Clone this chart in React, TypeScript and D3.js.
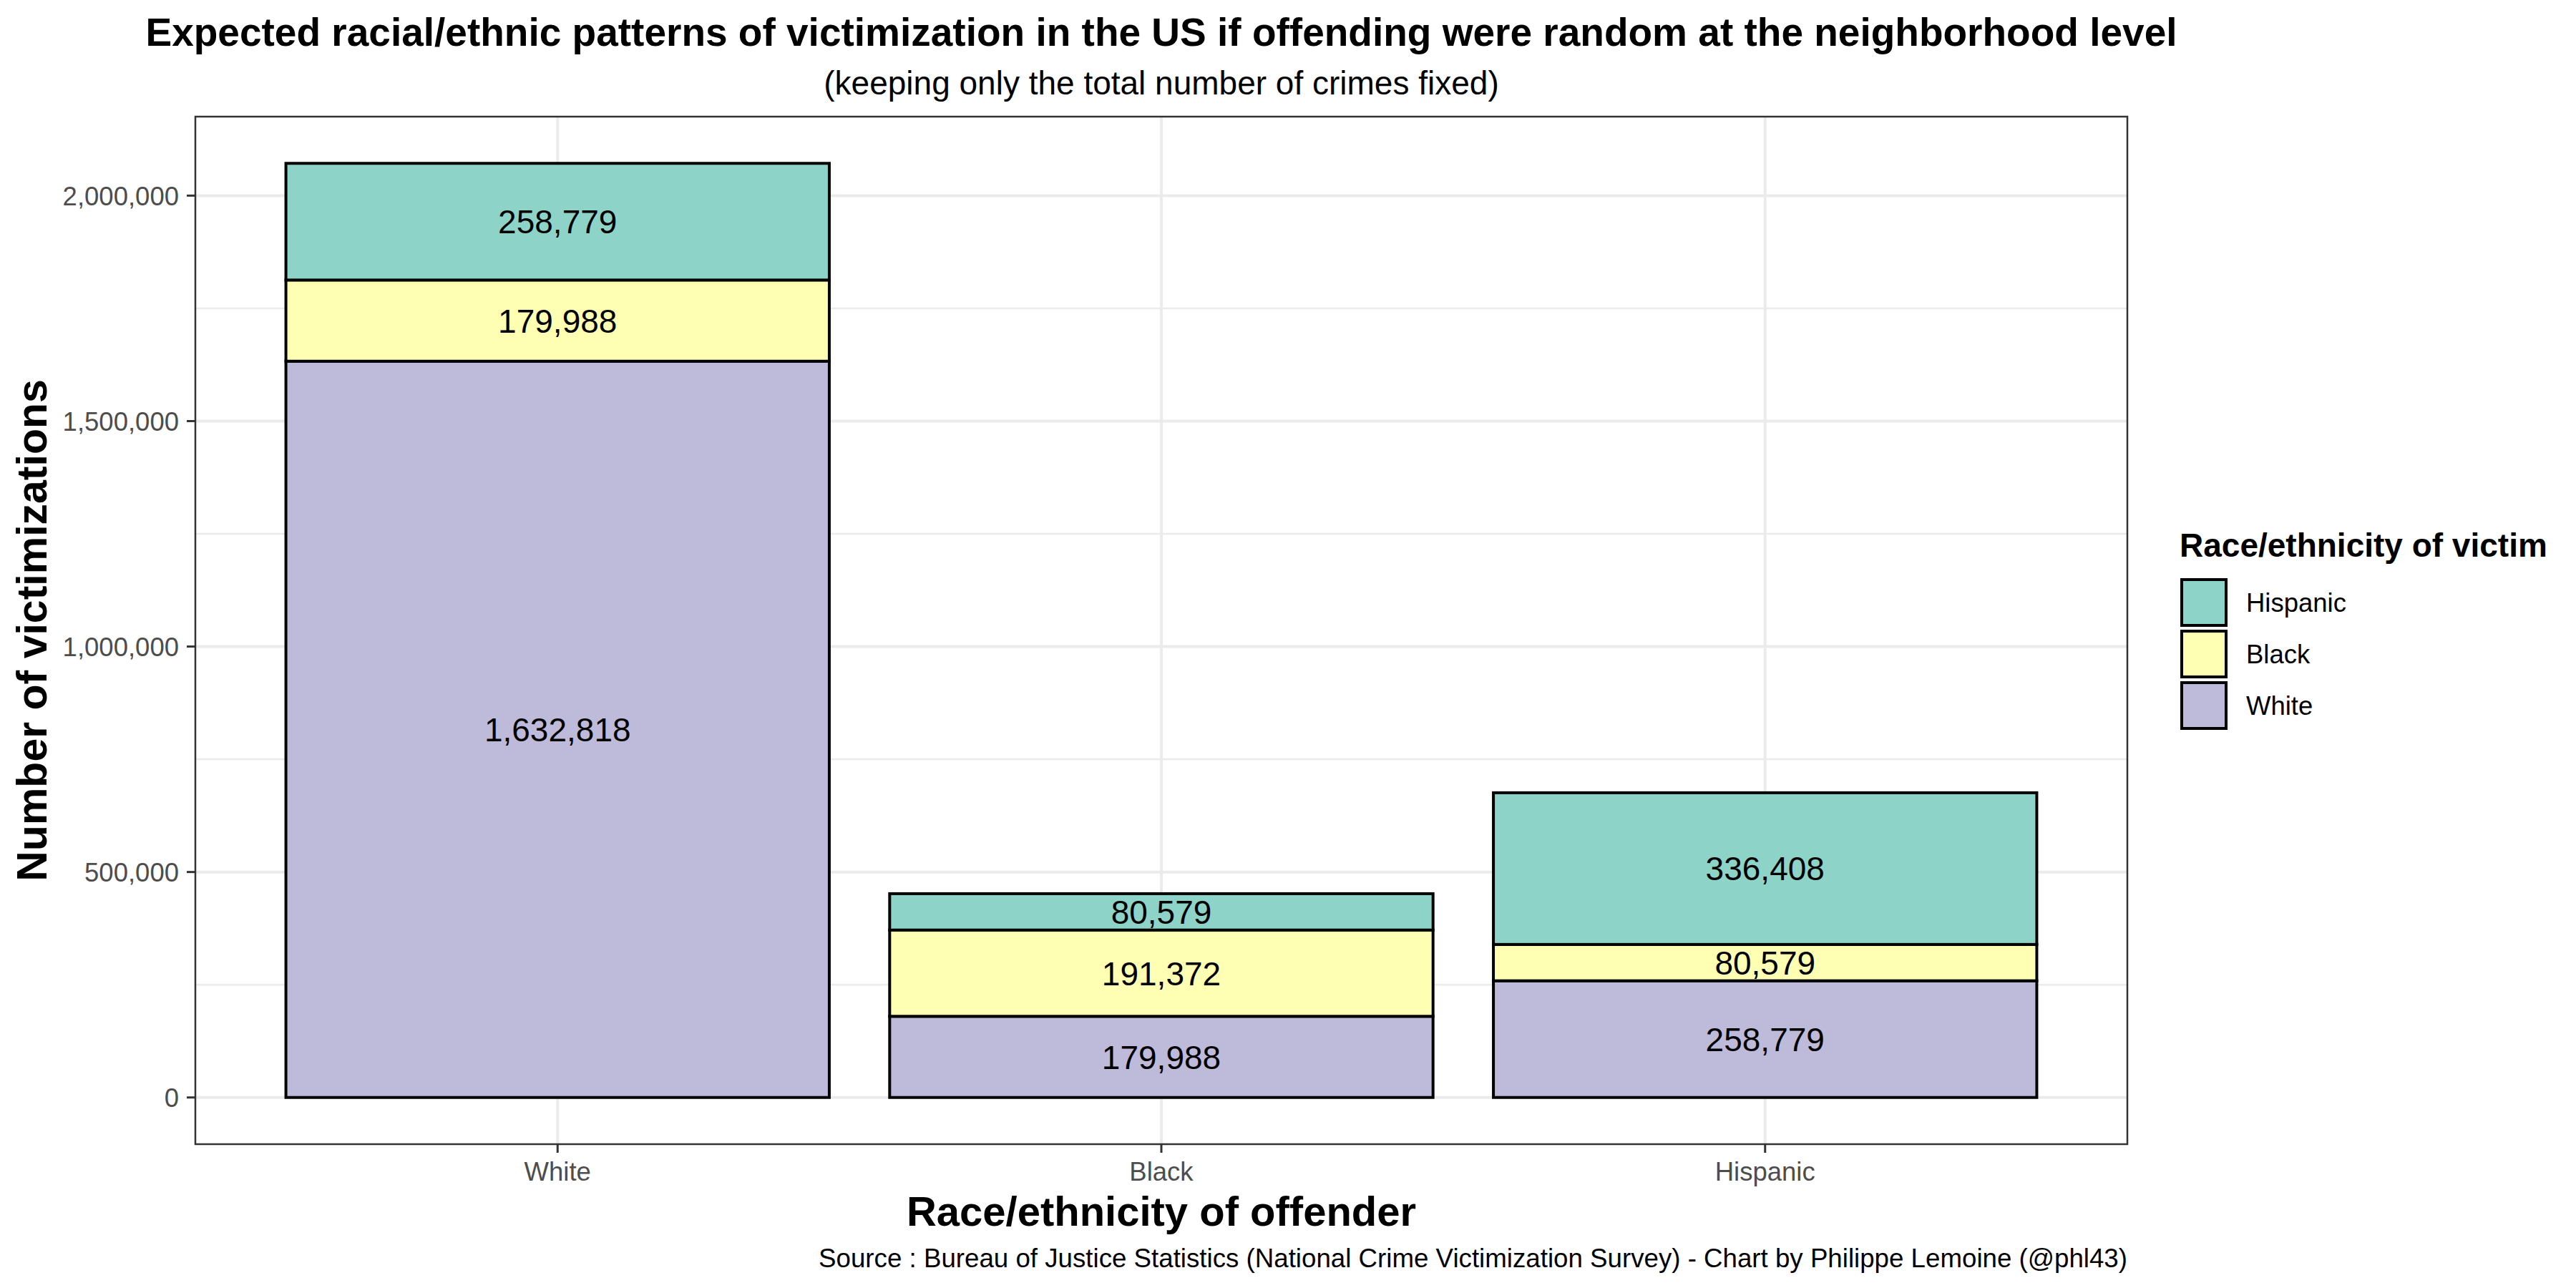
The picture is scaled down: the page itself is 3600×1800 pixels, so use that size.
import React from "react";
import * as d3 from "d3";

const offenders = ["White", "Black", "Hispanic"];
const victimGroups = ["White", "Black", "Hispanic"]; // stack order bottom -> top
const legendOrder = ["Hispanic", "Black", "White"];
const victimWhite = [1632818, 179988, 258779];
const victimBlack = [179988, 191372, 80579];
const victimHispanic = [258779, 80579, 336408];
const yTicks = [0, 500000, 1000000, 1500000, 2000000];
const yMinor = [250000, 750000, 1250000, 1750000];
const colors: Record<string, string> = {
  Hispanic: "#8DD3C7",
  Black: "#FFFFB3",
  White: "#BEBADA",
};

const titleText =
  "Expected racial/ethnic patterns of victimization in the US if offending were random at the neighborhood level";
const subtitleText = "(keeping only the total number of crimes fixed)";
const xTitle = "Race/ethnicity of offender";
const yTitle = "Number of victimizations";
const legendTitle = "Race/ethnicity of victim";
const captionText =
  "Source : Bureau of Justice Statistics (National Crime Victimization Survey) - Chart by Philippe Lemoine (@phl43)";

const FONT = "'Liberation Sans', Arial, Helvetica, sans-serif";

export default function App() {
  const W = 3600;
  const H = 1800;
  const pl = 273, pr = 2973, pt = 163, pb = 1599;

  const rows = offenders.map((o, i) => ({
    offender: o,
    White: victimWhite[i],
    Black: victimBlack[i],
    Hispanic: victimHispanic[i],
  }));
  const series = d3.stack<any>().keys(victimGroups)(rows);
  const maxTotal = d3.max(rows, (r) => r.White + r.Black + r.Hispanic) as number;
  const pad = maxTotal * 0.05;

  const x = d3
    .scaleBand<string>()
    .domain(offenders)
    .range([pl, pr])
    .paddingInner(0.1)
    .paddingOuter(0.15);
  const y = d3.scaleLinear().domain([-pad, maxTotal + pad]).range([pb, pt]);
  const fmt = d3.format(",");
  const grid = "#EBEBEB";

  return (
    <svg
      width={W}
      height={H}
      style={{ position: "absolute", left: 0, top: 0, display: "block" }}
      fontFamily={FONT}
    >
      <rect x={0} y={0} width={W} height={H} fill="#FFFFFF" />
      {/* title */}
      <text x={(pl + pr) / 2} y={64} textAnchor="middle" fontSize={55} fontWeight="bold" fill="#000">
        {titleText}
      </text>
      <text x={(pl + pr) / 2} y={132} textAnchor="middle" fontSize={46} fill="#000">
        {subtitleText}
      </text>

      {/* panel */}
      <rect x={pl} y={pt} width={pr - pl} height={pb - pt} fill="#FFFFFF" />
      {yMinor.map((v) => (
        <line key={"mi" + v} x1={pl} x2={pr} y1={y(v)} y2={y(v)} stroke={grid} strokeWidth={2.5} />
      ))}
      {yTicks.map((v) => (
        <line key={"ma" + v} x1={pl} x2={pr} y1={y(v)} y2={y(v)} stroke={grid} strokeWidth={4} />
      ))}
      {offenders.map((o) => (
        <line
          key={"gx" + o}
          x1={(x(o) as number) + x.bandwidth() / 2}
          x2={(x(o) as number) + x.bandwidth() / 2}
          y1={pt}
          y2={pb}
          stroke={grid}
          strokeWidth={4}
        />
      ))}

      {/* bars */}
      {series.map((s) =>
        s.map((d: any, i: number) => (
          <rect
            key={s.key + i}
            x={x(offenders[i])}
            width={x.bandwidth()}
            y={y(d[1])}
            height={y(d[0]) - y(d[1])}
            fill={colors[s.key]}
            stroke="#000"
            strokeWidth={4}
          />
        ))
      )}
      {series.map((s) =>
        s.map((d: any, i: number) => (
          <text
            key={"l" + s.key + i}
            x={(x(offenders[i]) as number) + x.bandwidth() / 2}
            y={y((d[0] + d[1]) / 2)}
            dy="0.36em"
            textAnchor="middle"
            fontSize={46}
            fill="#000"
          >
            {fmt(d[1] - d[0])}
          </text>
        ))
      )}

      {/* panel border */}
      <rect x={pl} y={pt} width={pr - pl} height={pb - pt} fill="none" stroke="#333333" strokeWidth={2.5} />

      {/* y axis */}
      {yTicks.map((v) => (
        <g key={"yt" + v}>
          <line x1={pl - 12} x2={pl} y1={y(v)} y2={y(v)} stroke="#333333" strokeWidth={3} />
          <text x={250} y={y(v)} dy="0.36em" textAnchor="end" fontSize={36.5} fill="#4D4D4D">
            {fmt(v)}
          </text>
        </g>
      ))}
      {/* x axis */}
      {offenders.map((o) => {
        const cx = (x(o) as number) + x.bandwidth() / 2;
        return (
          <g key={"xt" + o}>
            <line x1={cx} x2={cx} y1={pb} y2={pb + 12} stroke="#333333" strokeWidth={3} />
            <text x={cx} y={1650} textAnchor="middle" fontSize={36.5} fill="#4D4D4D">
              {o}
            </text>
          </g>
        );
      })}

      {/* axis titles */}
      <text x={(pl + pr) / 2} y={1713} textAnchor="middle" fontSize={58} fontWeight="bold" fill="#000">
        {xTitle}
      </text>
      <text
        transform={`translate(65, ${(pt + pb) / 2}) rotate(-90)`}
        textAnchor="middle"
        fontSize={59}
        fontWeight="bold"
        fill="#000"
      >
        {yTitle}
      </text>

      {/* legend */}
      <text x={3046} y={778} fontSize={46} fontWeight="bold" fill="#000">
        {legendTitle}
      </text>
      {legendOrder.map((k, i) => {
        const cy = 842 + i * 72;
        return (
          <g key={"lg" + k}>
            <rect x={3049} y={cy - 32} width={62} height={64} fill={colors[k]} stroke="#000" strokeWidth={4} />
            <text x={3139} y={cy} dy="0.36em" fontSize={36.5} fill="#000">
              {k}
            </text>
          </g>
        );
      })}

      {/* caption */}
      <text x={pr} y={1771} textAnchor="end" fontSize={36.7} fill="#000">
        {captionText}
      </text>
    </svg>
  );
}
